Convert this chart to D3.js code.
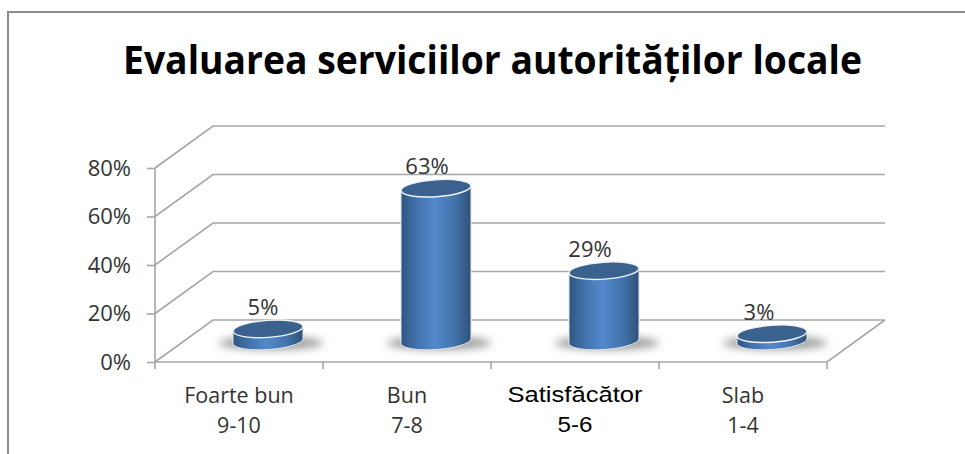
<!DOCTYPE html>
<html>
<head>
<meta charset="utf-8">
<script src="https://cdn.jsdelivr.net/npm/d3@7/dist/d3.min.js"></script>
<style>
  html, body { margin: 0; background: #fff; }
  svg { display: block; }
</style>
</head>
<body>
<script>
var w = 965, h = 454;

var categories = ["Foarte bun", "Bun", "Satisfăcător", "Slab"];
var ranges = ["9-10", "7-8", "5-6", "1-4"];
var values = [5, 63, 29, 3];
var yTicks = [0, 20, 40, 60, 80];
var titleText = "Evaluarea serviciilor autorităților locale";

// value labels do not sit centered over the cylinders in the original
var labelShift = [-5, -9, -14, -13];

// front plane of the 3D box, the back wall is shifted by depth
var left = 155, right = 827, bottom = 362, top_ = 168;
var depthX = 58, depthY = -42;
var labelFont = "'Open Sans', sans-serif";

var x = d3.scaleBand().domain(categories).range([left, right]);
var y = d3.scaleLinear().domain([0, 80]).range([bottom, top_]);

var svg = d3.select("body").append("svg").attr("width", w).attr("height", h);
var defs = svg.append("defs");

var grad = defs.append("linearGradient").attr("id", "side");
grad.append("stop").attr("offset", "0%").attr("stop-color", "#2f5580");
grad.append("stop").attr("offset", "22%").attr("stop-color", "#4272ab");
grad.append("stop").attr("offset", "48%").attr("stop-color", "#5389cc");
grad.append("stop").attr("offset", "78%").attr("stop-color", "#4272a8");
grad.append("stop").attr("offset", "100%").attr("stop-color", "#2f5077");

defs.append("filter").attr("id", "blur")
  .attr("x", "-30%").attr("y", "-80%").attr("width", "160%").attr("height", "260%")
  .append("feGaussianBlur").attr("stdDeviation", 4);

// outer frame
svg.append("path")
  .attr("d", "M8," + h + "V12H" + w)
  .attr("fill", "none").attr("stroke", "#8c8c8c").attr("stroke-width", 2);

svg.append("text")
  .attr("x", 123).attr("y", 74)
  .attr("textLength", 739)
  .attr("lengthAdjust", "spacingAndGlyphs")
  .attr("font-family", labelFont)
  .attr("font-weight", 700)
  .attr("font-size", 39)
  .attr("fill", "#000")
  .text(titleText);

var grid = svg.append("g").attr("fill", "none").attr("stroke", "#a6a6a6").attr("stroke-width", 1.6);

// wall lines and side wall diagonals
grid.selectAll(".wall").data(yTicks).enter().append("path")
  .attr("d", function(d) {
    return "M" + left + "," + y(d) + "L" + (left + depthX) + "," + (y(d) + depthY) + "H" + (right + depthX);
  });

// floor
grid.append("path")
  .attr("d", "M" + left + "," + bottom + "H" + right + "L" + (right + depthX) + "," + (bottom + depthY));
grid.append("path").attr("d", "M" + left + "," + y(80) + "V" + bottom);

// axes, only the ticks and labels come from d3.axis
var yAxis = svg.append("g").attr("transform", "translate(" + left + ",0)")
  .call(d3.axisLeft(y).tickValues(yTicks).tickSize(8).tickPadding(16).tickFormat(function(d) { return d + "%"; }));
yAxis.select(".domain").remove();
yAxis.selectAll("line").attr("stroke", "#a6a6a6").attr("stroke-width", 1.6);
yAxis.selectAll("text")
  .attr("font-family", labelFont).attr("font-size", 22).attr("fill", "#333");

var xTicks = svg.append("g").attr("fill", "none").attr("stroke", "#a6a6a6").attr("stroke-width", 1.6);
xTicks.selectAll("line").data(categories.concat(["end"])).enter().append("line")
  .attr("x1", function(d, i) { return left + i * x.bandwidth(); })
  .attr("x2", function(d, i) { return left + i * x.bandwidth(); })
  .attr("y1", bottom).attr("y2", bottom + 7);

// cylinders
var rx = 35, ry = 8.5, tilt = -4;
var baseY = bottom + depthY / 2;

function cx(d, i) { return x(categories[i]) + x.bandwidth() / 2 + depthX / 2; }
function topY(d) { return baseY - (y(0) - y(d)); }

function sidePath(d, i) {
  var c = cx(d, i), t = topY(d);
  return "M" + (c - rx) + "," + (t + 2.4) +
    "L" + (c - rx) + "," + (baseY + 2.4) +
    "A" + rx + "," + ry + " " + tilt + " 0 0 " + (c + rx) + "," + (baseY - 2.4) +
    "L" + (c + rx) + "," + (t - 2.4) + "Z";
}

var bars = svg.selectAll(".bar").data(values).enter().append("g").attr("class", "bar");

bars.append("ellipse")
  .attr("cx", function(d, i) { return cx(d, i) + 3; })
  .attr("cy", baseY + 2)
  .attr("rx", rx + 17).attr("ry", ry - 2)
  .attr("fill", "#858585").attr("opacity", 0.85).attr("filter", "url(#blur)");

bars.append("path")
  .attr("d", sidePath)
  .attr("fill", "url(#side)")
  .attr("stroke", "#dfe8f2").attr("stroke-width", 1);

bars.append("ellipse")
  .attr("rx", rx).attr("ry", ry)
  .attr("transform", function(d, i) {
    return "translate(" + cx(d, i) + "," + topY(d) + ") rotate(" + tilt + ")";
  })
  .attr("fill", "#3b628f")
  .attr("stroke", "#eef3f9").attr("stroke-width", 1.4);

bars.append("text")
  .attr("x", function(d, i) { return cx(d, i) + labelShift[i]; })
  .attr("y", function(d) { return topY(d) - 14; })
  .attr("text-anchor", "middle")
  .attr("font-family", labelFont).attr("font-size", 22).attr("fill", "#333")
  .text(function(d) { return d + "%"; });

// category labels, the third one is set in another font in the original
var labels = svg.selectAll(".cat").data(categories).enter().append("g").attr("class", "cat");
labels.append("text")
  .attr("x", function(d) { return x(d) + x.bandwidth() / 2; })
  .attr("y", function(d, i) { return i == 2 ? 402 : 403; })
  .text(function(d) { return d; });
labels.append("text")
  .attr("x", function(d) { return x(d) + x.bandwidth() / 2; })
  .attr("y", function(d, i) { return i == 2 ? 432 : 433; })
  .text(function(d, i) { return ranges[i]; });
labels.selectAll("text")
  .attr("text-anchor", "middle")
  .attr("font-family", labelFont)
  .attr("font-size", 21.5)
  .attr("fill", "#333");

// Satisfacator row: darker Arial look, stretched wide
var third = labels.filter(function(d) { return d == "Satisfăcător"; });
third.selectAll("text")
  .attr("font-family", "'Liberation Sans', sans-serif")
  .attr("font-size", 22)
  .attr("fill", "#000")
  .attr("lengthAdjust", "spacingAndGlyphs")
  .attr("textLength", function(d, i) { return i == 0 ? 135 : 35; });
</script>
</body>
</html>
